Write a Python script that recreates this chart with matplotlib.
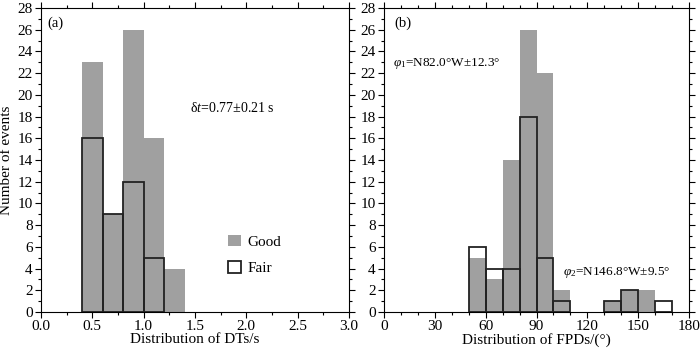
import matplotlib
matplotlib.use('Agg')
import matplotlib.pyplot as plt
from matplotlib.patches import Patch
from matplotlib.ticker import MultipleLocator
import numpy as np

plt.rcParams['font.family'] = ['Liberation Serif', 'DejaVu Serif']
plt.rcParams['mathtext.fontset'] = 'custom'
plt.rcParams['mathtext.rm'] = 'Liberation Serif'
plt.rcParams['mathtext.it'] = 'Liberation Serif:italic'

# (a) delay times, bin edges in s
dt_edges = [0.4, 0.6, 0.8, 1.0, 1.2, 1.4]
dt_good = [23, 9, 26, 16, 4]
dt_fair = [16, 9, 12, 5, 0]

# (b) fast polarization directions, bin edges in degrees
fpd_edges = [50, 60, 70, 80, 90, 100, 110, 120, 130, 140, 150, 160, 170]
fpd_good = [5, 3, 14, 26, 22, 2, 0, 0, 1, 2, 2, 0]
fpd_fair = [6, 4, 4, 18, 5, 1, 0, 0, 1, 2, 0, 1]

GRAY = '#a0a0a0'

fig = plt.figure(figsize=(7, 3.48), dpi=100)
ax1 = fig.add_axes([41 / 700, 1 - 312 / 348, 308 / 700, 304 / 348])
ax2 = fig.add_axes([384 / 700, 1 - 312 / 348, 305 / 700, 304 / 348])


def draw_hist(ax, edges, good, fair):
    edges = np.asarray(edges, dtype=float)
    widths = np.diff(edges)
    ax.bar(edges[:-1], good, width=widths, align='edge', color=GRAY,
           edgecolor='none', zorder=1)
    for x0, w, h in zip(edges[:-1], widths, fair):
        if h > 0:
            ax.bar(x0, h, width=w, align='edge', facecolor='none',
                   edgecolor='#222222', linewidth=1.3, zorder=2)


def style_axes(ax):
    ax.set_ylim(0, 28)
    ax.yaxis.set_major_locator(MultipleLocator(2))
    ax.yaxis.set_minor_locator(MultipleLocator(1))
    ax.tick_params(which='both', direction='out', top=True, right=True,
                   labelsize=11, width=0.8, pad=2)
    ax.tick_params(which='major', length=4)
    ax.tick_params(which='minor', length=2.5)
    for s in ax.spines.values():
        s.set_linewidth(0.8)


draw_hist(ax1, dt_edges, dt_good, dt_fair)
ax1.set_xlim(0, 3.0)
ax1.xaxis.set_major_locator(MultipleLocator(0.5))
ax1.xaxis.set_minor_locator(MultipleLocator(0.25))
ax1.xaxis.set_major_formatter(plt.FormatStrFormatter('%.1f'))
style_axes(ax1)
ax1.set_xlabel('Distribution of DTs/s', fontsize=11, labelpad=0)
ax1.set_ylabel('Number of events', fontsize=11)
ax1.yaxis.set_label_coords(-0.091, 0.5)
ax1.text(0.06, 26.6, '(a)', fontsize=10.5, va='center')
ax1.text(1.45, 18.8, 'δ$t$=0.77±0.21 s', fontsize=10, va='center')

handles = [Patch(facecolor=GRAY, edgecolor='none'),
           Patch(facecolor='none', edgecolor='#222222', linewidth=1.3)]
ax1.legend(handles, ['Good', 'Fair'], loc='upper left',
           bbox_to_anchor=(0.564, 0.3), frameon=False, fontsize=11,
           handlelength=0.8, handleheight=0.8, handletextpad=0.45,
           labelspacing=0.8)

draw_hist(ax2, fpd_edges, fpd_good, fpd_fair)
ax2.set_xlim(0, 180)
ax2.xaxis.set_major_locator(MultipleLocator(30))
ax2.xaxis.set_minor_locator(MultipleLocator(10))
style_axes(ax2)
ax2.set_xlabel('Distribution of FPDs/(°)', fontsize=11, labelpad=0)
ax2.text(6, 26.6, '(b)', fontsize=10.5, va='center')
ax2.text(5.3, 22.9, '$φ_1$=N82.0°W±12.3°', fontsize=9.5, va='center')
ax2.text(105.6, 3.6, '$φ_2$=N146.8°W±9.5°', fontsize=9.5, va='center')

fig.savefig('out.png', dpi=100)
